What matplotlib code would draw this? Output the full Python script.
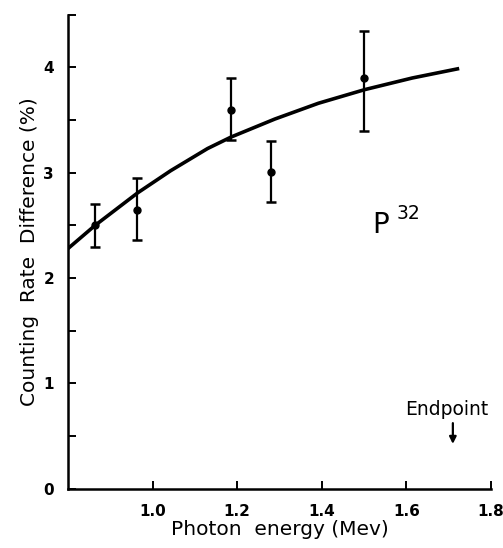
import matplotlib
matplotlib.use("Agg")
import matplotlib.pyplot as plt
from matplotlib.ticker import MultipleLocator, FixedLocator

# Data points (photon energy MeV, counting rate difference %)
energy = [0.864, 0.964, 1.186, 1.280, 1.500]
rate = [2.50, 2.65, 3.60, 3.01, 3.90]
err_low = [0.20, 0.29, 0.29, 0.29, 0.50]
err_high = [0.20, 0.30, 0.30, 0.29, 0.45]

# Smooth curve
curve_x = [0.80, 0.864, 0.965, 1.043, 1.130, 1.186, 1.289, 1.392, 1.502, 1.614, 1.725]
curve_y = [2.28, 2.50, 2.81, 3.02, 3.23, 3.34, 3.51, 3.66, 3.79, 3.90, 3.99]

x_ticks = [1.0, 1.2, 1.4, 1.6, 1.8]
x_ticklabels = ["1.0", "1.2", "1.4", "1.6", "1.8"]
y_ticks = [0, 1, 2, 3, 4]

endpoint_x = 1.71

fig = plt.figure(figsize=(5.03, 5.48), dpi=100)
ax = fig.add_axes([0.135, 0.108, 0.841, 0.865])

ax.plot(curve_x, curve_y, color="black", lw=2.6, solid_capstyle="butt",
        solid_joinstyle="round")
ax.errorbar(energy, rate, yerr=[err_low, err_high], fmt="o", color="black",
            ms=5, lw=1.6, capsize=3.6, capthick=1.8)

ax.set_xlim(0.8, 1.8)
ax.set_ylim(0, 4.5)
ax.spines["top"].set_visible(False)
ax.spines["right"].set_visible(False)
for s in ("left", "bottom"):
    ax.spines[s].set_linewidth(1.8)

ax.xaxis.set_major_locator(FixedLocator(x_ticks))
ax.set_xticklabels(x_ticklabels, fontweight="bold", fontsize=11)
ax.yaxis.set_major_locator(FixedLocator(y_ticks))
ax.yaxis.set_minor_locator(MultipleLocator(0.5))
ax.set_yticklabels([str(v) for v in y_ticks], fontweight="bold", fontsize=11)
ax.tick_params(axis="both", which="both", direction="in", length=6, width=1.4)
ax.tick_params(axis="x", pad=11)
ax.tick_params(axis="y", pad=10)

ax.set_xlabel("Photon  energy (Mev)", fontsize=14.5, labelpad=1)
ax.set_ylabel("Counting  Rate  Difference (%)", fontsize=14.5, labelpad=3)

ax.text(1.519, 2.43, "P", fontsize=20, ha="left", va="baseline")
ax.text(1.578, 2.565, "32", fontsize=13.5, ha="left", va="baseline")
ax.text(endpoint_x - 0.015, 0.70, "Endpoint", fontsize=13.5, ha="center", va="baseline")
ax.annotate("", xy=(endpoint_x, 0.40), xytext=(endpoint_x, 0.65),
            arrowprops=dict(arrowstyle="-|>", color="black", lw=1.6,
                            mutation_scale=10))

fig.savefig("out.png", dpi=100)
